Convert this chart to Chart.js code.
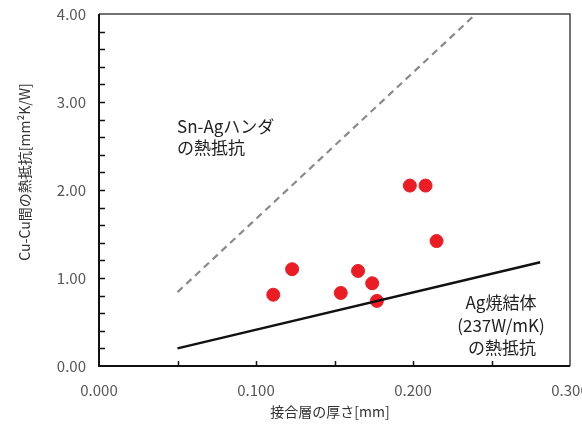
<!DOCTYPE html>
<html>
<head>
<meta charset="utf-8">
<script src="https://cdn.jsdelivr.net/npm/chart.js@4/dist/chart.umd.min.js"></script>
<style>
  html, body { margin: 0; padding: 0; background: #fff; }
  #wrap { width: 582px; height: 428px; }
</style>
</head>
<body>
<div id="wrap"><canvas id="chart" width="582" height="428"></canvas></div>
<script>
// measured samples: bond layer thickness [mm] vs thermal resistance
const sampleThickness = [0.111, 0.123, 0.154, 0.165, 0.174, 0.177, 0.198, 0.208, 0.215];
const sampleResistance = [0.81, 1.10, 0.83, 1.08, 0.94, 0.74, 2.05, 2.05, 1.42];

// reference lines (end points)
const silverThickness = [0.05, 0.281];
const silverResistance = [0.20, 1.18];
const solderThickness = [0.05, 0.240];
const solderResistance = [0.84, 4.00];

const xTicks = [0, 0.1, 0.2, 0.3];
const yTicks = [0, 1, 2, 3, 4];

const FONT = '"Noto Sans CJK JP", "Noto Sans", sans-serif';

const toPoints = (xs, ys) => xs.map((x, i) => ({ x: x, y: ys[i] }));

// frame, inner ticks, titles and notes
const decorations = {
    id: 'decorations',
    afterDraw(chart) {
        const ctx = chart.ctx;
        const a = chart.chartArea;
        const xs = chart.scales.x;
        const ys = chart.scales.y;
        ctx.save();

        // box
        ctx.strokeStyle = '#444';
        ctx.lineWidth = 1.5;
        ctx.beginPath();
        ctx.moveTo(a.left, a.top);
        ctx.lineTo(a.right, a.top);
        ctx.lineTo(a.right, a.bottom);
        ctx.stroke();
        ctx.strokeStyle = '#111';
        ctx.lineWidth = 2;
        ctx.beginPath();
        ctx.moveTo(a.left, a.top);
        ctx.lineTo(a.left, a.bottom);
        ctx.lineTo(a.right, a.bottom);
        ctx.stroke();

        // inner ticks
        ctx.lineWidth = 1.5;
        ctx.beginPath();
        for (let v = 0.2; v < 4; v += 0.2) {
            const py = Math.round(ys.getPixelForValue(v)) + 0.5;
            ctx.moveTo(a.left, py);
            ctx.lineTo(a.left + 6, py);
        }
        for (let v = 0.05; v < 0.3; v += 0.05) {
            const px = Math.round(xs.getPixelForValue(v)) + 0.5;
            ctx.moveTo(px, a.bottom);
            ctx.lineTo(px, a.bottom - 5);
        }
        ctx.stroke();

        // axis titles
        ctx.fillStyle = '#333';
        ctx.font = '14px ' + FONT;
        ctx.textAlign = 'center';
        ctx.textBaseline = 'middle';
        ctx.fillText('接合層の厚さ[mm]', 330, 412);
        ctx.save();
        ctx.translate(25, 172);
        ctx.rotate(-Math.PI / 2);
        ctx.fillText('Cu-Cu間の熱抵抗[mm²K/W]', 0, 0);
        ctx.restore();

        // notes
        ctx.font = '17px ' + FONT;
        ctx.fillStyle = '#222';
        ctx.textAlign = 'left';
        ctx.fillText('Sn-Agハンダ', 177, 127);
        ctx.fillText('の熱抵抗', 177, 148);
        ctx.textAlign = 'center';
        ctx.fillText('Ag焼結体', 501, 303);
        ctx.fillText('(237W/mK)', 501, 326);
        ctx.fillText('の熱抵抗', 502, 348);

        ctx.restore();
    }
};

new Chart(document.getElementById('chart'), {
    type: 'scatter',
    data: {
        datasets: [
            {
                label: 'Sn-Ag',
                data: toPoints(solderThickness, solderResistance),
                showLine: true,
                borderColor: '#8a8a8a',
                borderWidth: 2.2,
                borderDash: [7, 5],
                pointRadius: 0
            },
            {
                label: 'Ag',
                data: toPoints(silverThickness, silverResistance),
                showLine: true,
                borderColor: '#111',
                borderWidth: 2.5,
                pointRadius: 0
            },
            {
                label: 'samples',
                data: toPoints(sampleThickness, sampleResistance),
                backgroundColor: '#ec1c24',
                borderColor: '#ec1c24',
                pointRadius: 6.5,
                pointHoverRadius: 6.5
            }
        ]
    },
    options: {
        responsive: false,
        animation: false,
        layout: { padding: { top: 14, right: 12, left: 0, bottom: 0 } },
        plugins: {
            legend: { display: false },
            tooltip: { enabled: false }
        },
        scales: {
            x: {
                type: 'linear',
                min: 0,
                max: 0.3,
                afterBuildTicks: s => { s.ticks = xTicks.map(v => ({ value: v })); },
                afterFit: s => { s.height = 62; s.paddingLeft = 0; s.paddingRight = 0; },
                grid: { display: false, drawTicks: false },
                border: { display: false },
                ticks: {
                    padding: 15,
                    color: '#555',
                    font: { family: FONT, size: 15 },
                    maxRotation: 0,
                    callback: v => v.toFixed(3)
                }
            },
            y: {
                type: 'linear',
                min: 0,
                max: 4,
                afterBuildTicks: s => { s.ticks = yTicks.map(v => ({ value: v })); },
                afterFit: s => { s.width = 99; s.paddingTop = 0; s.paddingBottom = 0; },
                grid: { display: false, drawTicks: false },
                border: { display: false },
                ticks: {
                    padding: 13,
                    color: '#555',
                    font: { family: FONT, size: 15 },
                    callback: v => v.toFixed(2)
                }
            }
        }
    },
    plugins: [decorations]
});
</script>
</body>
</html>
